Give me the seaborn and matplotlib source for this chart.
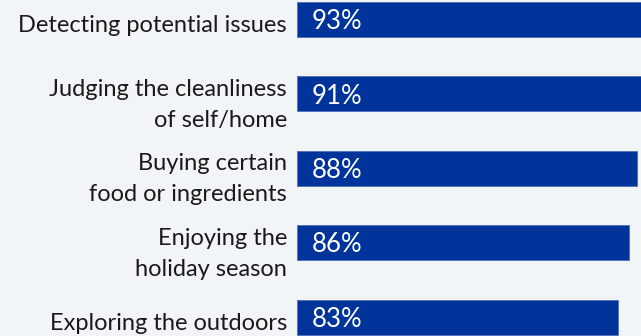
import matplotlib
matplotlib.use("Agg")
import matplotlib.pyplot as plt
import matplotlib.transforms as mtransforms
import pandas as pd
import seaborn as sns

# Share of respondents who rely on their sense of smell for each activity
activities = [
    "Detecting potential issues",
    "Judging the cleanliness\nof self/home",
    "Buying certain\nfood or ingredients",
    "Enjoying the\nholiday season",
    "Exploring the outdoors",
]
shares = [93, 91, 88, 86, 83]

BG = "#f2f5f7"
BAR = "#00349a"

df = pd.DataFrame({"activity": activities, "share": shares})

sns.set_theme(style="white")
plt.rcParams["font.family"] = ["Lato", "DejaVu Sans"]

W, H = 641, 336
fig = plt.figure(figsize=(W / 100, H / 100), dpi=100, facecolor=BG)
ax = fig.add_axes([297 / W, 0, (W - 297) / W, 1])
ax.set_facecolor(BG)

sns.barplot(
    data=df, x="share", y="activity", orient="h",
    color=BAR, saturation=1, width=0.47,
    edgecolor="#4f6fb5", linewidth=0.6, ax=ax,
)

ax.set_xlim(0, 89.0)
ax.set_ylim(4.254, -0.262)
for s in ax.spines.values():
    s.set_visible(False)
ax.set_xticks([])
ax.set_xlabel("")
ax.set_ylabel("")
ax.tick_params(axis="y", length=0, pad=7.2)

offset = mtransforms.ScaledTranslation(0, -4 / 100, fig.dpi_scale_trans)
for lab in ax.get_yticklabels():
    lab.set_fontsize(17)
    lab.set_color("#1a1a1a")
    lab.set_linespacing(1.6)
    lab.set_horizontalalignment("right")
    lab.set_multialignment("right")
    lab.set_transform(lab.get_transform() + offset)

for i, v in enumerate(shares):
    ax.text(3.9, i + 0.03, f"{v}%", color="white", fontsize=18.5,
            ha="left", va="center")

fig.savefig("out.png", dpi=100, facecolor=BG)
